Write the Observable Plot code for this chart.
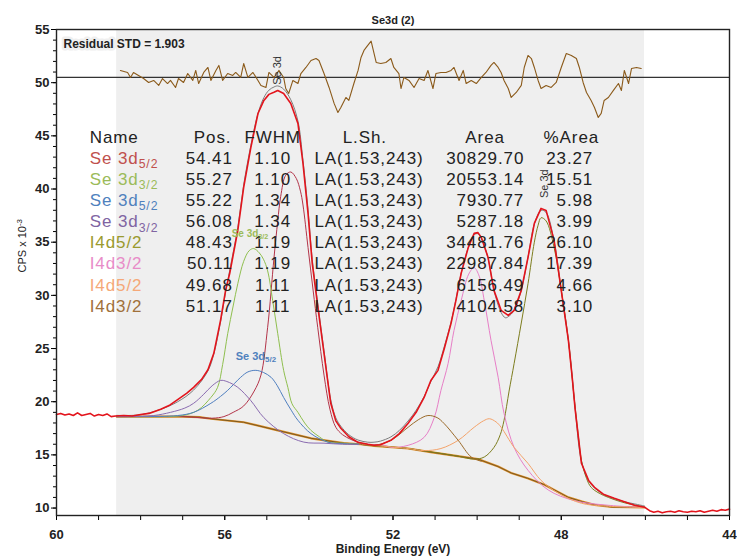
<!DOCTYPE html>
<html>
<head>
<meta charset="utf-8">
<script src="https://cdn.jsdelivr.net/npm/d3@7"></script>
<script src="https://cdn.jsdelivr.net/npm/@observablehq/plot@0.6"></script>
<style>
  body { margin: 0; background: #fff; }
  #chart svg { font-family: "Liberation Sans", Arial, sans-serif; }
  #chart svg .tbl text { letter-spacing: 0.9px; }
</style>
</head>
<body>
<div id="chart"></div>
<script>
// ---------- DATA (binding energy eV, CPS x 10^-3) ----------
const rawData = [[60.0,18.8],[59.9,18.9],[59.8,18.75],[59.7,18.85],[59.6,18.7],[59.5,18.95],[59.4,18.7],[59.3,18.8],[59.2,18.9],[59.1,18.65],[59.0,18.8],[58.9,18.7],[58.8,18.85],[58.7,18.6],[58.6,18.65],
  [58.4,18.7],[58.2,18.65],[58.0,18.8],[57.8,18.9],[57.52,19.3],[57.3,19.7],[57.12,20.2],[56.9,20.8],[56.74,21.35],[56.55,22.1],[56.40,23.0],[56.26,24.55],[56.10,27.65],[55.98,30.47],
  [55.88,32.1],[55.69,36.1],[55.55,40.15],[55.38,43.9],[55.21,47.1],[55.07,48.33],[54.95,48.9],[54.83,49.1],[54.74,49.27],[54.60,48.98],
  [54.43,48.05],[54.26,46.17],[54.14,42.4],[54.02,37.7],[53.92,33.0],[53.79,29.0],[53.64,24.55],[53.48,19.85],[53.36,18.2],[53.24,17.5],
  [53.05,16.7],[52.83,16.18],[52.6,16.0],[52.45,15.9],[52.3,15.95],[52.05,16.37],[51.85,17.0],[51.64,17.97],[51.45,19.0],[51.26,20.4],
  [51.10,22.0],[50.93,22.95],[50.78,25.0],[50.62,27.37],[50.50,29.6],[50.38,32.07],[50.21,34.51],[50.07,35.83],[49.98,35.9],[49.90,35.45],
  [49.74,33.57],[49.60,30.47],[49.43,28.59],[49.26,28.12],[49.12,28.59],[48.95,30.47],[48.79,33.57],[48.64,36.77],[48.48,38.18],[48.36,37.99],
  [48.17,35.17],[48.00,30.47],[47.83,25.77],[47.74,22.3],[47.67,19.3],[47.52,14.21],[47.35,12.6],[47.21,11.95],[47.0,11.3],[46.74,10.92],
  [46.5,10.6],[46.26,10.26],[46.02,10.08],
  [45.9,9.75],[45.8,9.6],[45.7,9.7],[45.6,9.55],[45.5,9.65],[45.4,9.7],[45.3,9.6],[45.2,9.75],[45.1,9.65],[45.0,9.6],[44.9,9.7],[44.8,9.65],[44.7,9.75],[44.6,9.6],[44.5,9.7],[44.4,9.8],[44.3,9.7],[44.2,9.85],[44.1,9.8],[44.0,9.9]];

const envelope = [[58.57,18.62],[58.0,18.68],[57.52,19.2],[57.12,19.9],[56.74,21.0],[56.40,22.8],[56.26,24.4],[56.10,27.4],[55.98,30.2],[55.88,32.3],[55.69,36.3],[55.55,40.3],[55.38,44.0],[55.21,47.0],[55.07,48.5],[54.95,49.2],[54.83,49.5],[54.74,49.6],[54.60,49.3],[54.43,48.3],[54.26,46.3],[54.14,42.6],[54.02,38.0],[53.92,33.3],[53.79,29.2],[53.64,24.7],[53.48,20.1],[53.36,18.4],[53.24,17.6],[53.05,16.8],[52.83,16.3],[52.6,16.1],[52.45,16.1],[52.3,16.2],[52.05,16.6],[51.85,17.2],[51.64,18.1],[51.45,19.1],[51.26,20.4],[51.10,21.8],[50.93,23.2],[50.78,25.1],[50.62,27.4],[50.50,29.6],[50.38,32.0],[50.21,34.4],[50.07,35.6],[49.98,35.7],[49.90,35.3],[49.74,33.4],[49.60,30.4],[49.43,28.3],[49.33,27.8],[49.26,27.9],[49.12,28.5],[48.95,30.4],[48.79,33.5],[48.64,36.6],[48.48,37.9],[48.36,37.7],[48.17,35.0],[48.00,30.4],[47.83,25.7],[47.74,22.3],[47.67,19.3],[47.52,14.3],[47.35,12.5],[47.21,11.8],[47.0,11.2],[46.74,10.8],[46.5,10.5],[46.26,10.3],[46.02,10.1]];

const background = [[58.57,18.6],[57.0,18.6],[56.6,18.55],[56.33,18.4],[55.55,18.07],[54.74,17.3],[53.95,16.56],[53.17,16.1],[52.76,16.0],[52.45,15.85],[51.64,15.6],[51.07,15.24],[50.5,14.9],[49.98,14.6],[49.5,13.9],[49.19,13.3],[48.8,12.8],[48.40,12.2],[47.83,11.0],[47.5,10.6],[47.21,10.3],[46.8,10.1],[46.02,10.05]];

const se3d52a = [[58.57,18.6],[57.0,18.6],[56.3,18.45],[56.02,18.6],[55.8,19.0],[55.55,19.6],[55.3,21.0],[55.14,22.5],[54.98,27.0],[54.83,33.5],[54.74,37.0],[54.67,39.3],[54.55,41.3],[54.43,41.6],[54.30,41.0],[54.20,39.8],[54.14,38.5],[54.02,34.5],[53.90,30.5],[53.79,27.0],[53.64,22.5],[53.50,19.3],[53.36,17.6],[53.2,16.9],[53.0,16.45],[52.76,16.1],[52.4,15.9]];
const se3d32a = [[58.57,18.6],[57.5,18.6],[57.0,18.7],[56.64,19.2],[56.33,20.4],[56.17,21.35],[56.05,23.5],[55.93,26.4],[55.80,29.0],[55.69,31.1],[55.55,33.2],[55.42,34.2],[55.31,34.4],[55.18,34.0],[55.08,33.4],[54.98,32.3],[54.86,29.5],[54.74,26.4],[54.60,22.95],[54.50,21.35],[54.40,19.8],[54.26,19.0],[54.10,18.0],[53.95,17.3],[53.75,16.7],[53.55,16.2],[53.17,16.1],[52.8,16.0]];
const se3d52b = [[58.57,18.6],[58.0,18.6],[57.12,18.7],[56.74,19.0],[56.33,19.85],[56.1,20.5],[55.93,21.07],[55.62,22.3],[55.45,22.8],[55.26,22.95],[55.08,22.75],[54.90,22.3],[54.75,21.5],[54.60,20.4],[54.42,19.2],[54.26,18.25],[53.95,17.0],[53.55,16.2],[53.17,16.05],[52.8,16.0]];
const se3d32b = [[58.57,18.6],[58.3,18.6],[57.69,18.7],[57.29,19.0],[56.95,19.4],[56.74,19.85],[56.5,20.7],[56.3,21.5],[56.10,22.0],[55.95,21.9],[55.69,21.35],[55.38,20.1],[55.07,18.5],[54.6,17.0],[54.12,16.2],[53.64,16.1],[53.2,16.0],[52.8,16.0]];
const i4d52a = [[52.8,16.0],[51.64,15.6],[51.3,15.4],[50.8,15.1],[50.45,14.87],[50.07,14.6],[49.83,14.8],[49.60,15.7],[49.45,16.9],[49.36,18.25],[49.24,21.0],[49.12,23.6],[48.95,27.4],[48.79,31.1],[48.64,35.0],[48.55,36.6],[48.48,37.3],[48.36,37.0],[48.17,34.5],[48.0,30.47],[47.83,25.77],[47.71,21.0],[47.60,17.0],[47.52,14.5],[47.40,12.8],[47.29,11.95],[47.1,11.4],[46.88,11.0],[46.5,10.5],[46.02,10.1]];
const i4d32a = [[52.8,16.0],[52.2,15.9],[52.05,15.7],[51.64,15.9],[51.26,16.65],[51.02,18.5],[50.86,21.07],[50.69,23.6],[50.55,26.7],[50.38,29.5],[50.20,32.0],[50.07,32.6],[49.95,31.8],[49.83,29.5],[49.67,25.77],[49.50,22.3],[49.36,18.9],[49.12,15.7],[48.79,13.55],[48.31,11.7],[47.69,10.7],[46.88,10.26],[46.02,10.05]];
const i4d52b = [[52.8,16.0],[51.64,15.6],[51.26,15.4],[50.86,15.6],[50.45,16.37],[50.07,17.6],[49.85,18.2],[49.71,18.4],[49.55,18.1],[49.43,17.6],[49.12,15.7],[48.79,14.2],[48.48,12.6],[48.07,11.4],[47.52,10.45],[47.0,10.2],[46.02,10.05]];
const i4d32b = [[52.8,16.0],[52.45,15.9],[52.05,16.37],[51.64,17.6],[51.4,18.3],[51.17,18.7],[50.95,18.5],[50.79,17.97],[50.45,16.37],[50.14,14.8],[49.90,14.4]];

const residual = [[58.48,51.15],[58.31,50.96],[58.24,50.49],[58.17,50.96],[58.05,50.68],[57.93,50.39],[57.81,50.02],[57.69,50.21],[57.57,49.74],[57.48,50.39],[57.36,49.92],[57.29,50.21],[57.17,49.55],[57.10,50.39],[56.98,50.02],[56.88,50.86],[56.76,50.21],[56.69,51.15],[56.62,49.92],[56.50,50.96],[56.40,51.43],[56.33,50.21],[56.21,51.15],[56.14,51.62],[56.05,50.21],[55.93,50.86],[55.81,50.68],[55.74,50.96],[55.62,50.49],[55.55,51.80],[55.45,50.49],[55.33,50.96],[55.21,50.21],[55.14,49.74],[55.02,49.55],[54.95,50.96],[54.83,50.49],[54.71,51.15],[54.60,50.49],[54.55,49.45],[54.48,48.98],[54.38,50.21],[54.26,49.92],[54.19,50.86],[54.07,51.43],[53.95,52.09],[53.83,52.27],[53.76,52.09],[53.64,50.86],[53.52,49.55],[53.40,48.05],[53.31,47.20],[53.24,47.67],[53.12,48.61],[53.05,48.33],[52.93,49.92],[52.83,51.15],[52.76,52.37],[52.69,53.03],[52.60,53.50],[52.52,53.9],[52.40,51.90],[52.29,51.80],[52.17,51.90],[52.05,52.27],[51.98,51.43],[51.86,50.86],[51.81,49.45],[51.74,50.49],[51.62,50.21],[51.50,49.55],[51.38,50.39],[51.26,50.21],[51.17,51.15],[51.05,49.45],[50.98,50.86],[50.86,50.96],[50.74,50.96],[50.62,51.15],[50.55,51.43],[50.43,50.21],[50.33,51.15],[50.26,49.92],[50.14,50.21],[50.02,49.92],[49.90,50.49],[49.79,50.96],[49.67,51.62],[49.60,51.90],[49.50,51.43],[49.43,50.96],[49.36,50.21],[49.26,49.45],[49.19,48.61],[49.07,49.08],[48.95,49.74],[48.88,51.43],[48.79,52.56],[48.71,52.27],[48.64,51.43],[48.55,50.21],[48.48,49.45],[48.36,49.74],[48.24,49.55],[48.12,50.02],[48.00,51.43],[47.88,52.74],[47.76,52.56],[47.64,52.27],[47.57,51.43],[47.48,50.02],[47.40,49.08],[47.29,48.33],[47.21,47.67],[47.12,46.73],[47.05,47.11],[46.98,48.33],[46.88,48.61],[46.76,49.27],[46.64,49.92],[46.57,49.27],[46.50,51.15],[46.40,49.92],[46.33,51.33],[46.21,51.43],[46.10,51.33]];
const residualBase = 50.5;
const fitRegion = [58.57, 46.02];

// table
const tableHeaders = ["Name", "Pos.", "FWHM", "L.Sh.", "Area", "%Area"];
const compNames = ["Se 3d|5/2", "Se 3d|3/2", "Se 3d|5/2", "Se 3d|3/2", "I4d5/2", "I4d3/2", "I4d5/2", "I4d3/2"];
const compPos = ["54.41", "55.27", "55.22", "56.08", "48.43", "50.11", "49.68", "51.17"];
const compFWHM = ["1.10", "1.10", "1.34", "1.34", "1.19", "1.19", "1.11", "1.11"];
const compLSh = ["LA(1.53,243)", "LA(1.53,243)", "LA(1.53,243)", "LA(1.53,243)", "LA(1.53,243)", "LA(1.53,243)", "LA(1.53,243)", "LA(1.53,243)"];
const compArea = ["30829.70", "20553.14", "7930.77", "5287.18", "34481.76", "22987.84", "6156.49", "4104.58"];
const compPct = ["23.27", "15.51", "5.98", "3.99", "26.10", "17.39", "4.66", "3.10"];

// ticks
const xMajorTicks = [60, 56, 52, 48, 44];
const xMinorTicks = d3.range(44, 61, 1);
const yMajorTicks = [10, 15, 20, 25, 30, 35, 40, 45, 50, 55];
const yMinorTicks = d3.range(10, 56, 1);

// ---------- STYLE ----------
const nameColors = ["#c0504d", "#9bbb59", "#4f81bd", "#8064a2", "#9a9a2e", "#e88cc8", "#f5a878", "#a0703a"];
const compColors = ["#b33449", "#8fbf4f", "#4f7fc0", "#8a6bb0", "#7d7d1e", "#e77fc7", "#f4a36a", "#9b6a2a"];
const components = [se3d52a, se3d32a, se3d52b, se3d32b, i4d52a, i4d32a, i4d52b, i4d32b];

// table layout (in data coordinates)
const rowTop = 44.85, rowStep = 1.983;
const rowY = (i) => rowTop - rowStep * (i + 1);
const rows = compNames.map((n, i) => ({i, name: n, pos: compPos[i], fwhm: compFWHM[i], lsh: compLSh[i], area: compArea[i], pct: compPct[i], color: nameColors[i]}));
const headerLayout = [
  {x: 59.21, a: "start"},
  {x: 55.84, a: "end"},
  {x: 54.86, a: "middle"},
  {x: 52.67, a: "middle"},
  {x: 49.81, a: "middle"},
  {x: 47.10, a: "end"}
];
const tFont = 17;
const colMark = (field, x, anchor, fill) => Plot.text(rows, {
  x: () => x, y: d => rowY(d.i), text: d => d[field], textAnchor: anchor,
  fill: fill || "#222", fontSize: tFont, className: "tbl"
});
const headerMarks = tableHeaders.map((h, k) => Plot.text([h], {
  x: () => headerLayout[k].x, y: () => rowTop, textAnchor: headerLayout[k].a,
  fontSize: tFont, fill: "#222", className: "tbl"
}));

const marks = [
  Plot.rect([fitRegion], {x1: d => d[0], x2: d => d[1], fill: "#efefef"}),
  Plot.ruleY([residualBase], {stroke: "#333", strokeWidth: 1.4}),
  Plot.line(residual, {x: d => d[0], y: d => d[1], stroke: "#8b5a1a", strokeWidth: 1.1}),
  Plot.line(background, {x: d => d[0], y: d => d[1], stroke: "#e0902a", strokeWidth: 2.2}),
  Plot.line(background, {x: d => d[0], y: d => d[1], stroke: "#7a5a22", strokeWidth: 1}),
  ...components.map((c, k) => Plot.line(c, {x: d => d[0], y: d => d[1], stroke: compColors[k], strokeWidth: 1, curve: "catmull-rom"})),
  Plot.line(envelope, {x: d => d[0], y: d => d[1], stroke: "#6f6f6f", strokeWidth: 0.9, curve: "catmull-rom", dy: -1}),
  Plot.line(rawData, {x: d => d[0], y: d => d[1], stroke: "#e3141c", strokeWidth: 1.6}),
  // axes
  Plot.axisY(yMinorTicks, {tickSize: 3, tickFormat: () => "", label: null}),
  Plot.axisY(yMajorTicks, {tickSize: 5, tickPadding: 2, label: null, fontSize: 13, fill: "#222", className: "tickbold"}),
  Plot.axisX(xMinorTicks, {tickSize: 5, tickFormat: () => "", label: null}),
  Plot.axisX(xMajorTicks, {tickSize: 5, tickPadding: 9, label: null, fontSize: 13, fill: "#222", className: "tickbold"}),
  Plot.frame({stroke: "#222", strokeWidth: 1.4}),
  // table
  ...headerMarks,
  colMark("name", 59.21, "start", d => d.color),
  colMark("pos", 55.81, "end"),
  colMark("fwhm", 54.86, "middle"),
  colMark("lsh", 52.57, "middle"),
  colMark("area", 48.88, "end"),
  colMark("pct", 47.24, "end"),
  // peak annotations
  Plot.text(["Se 3d"], {x: () => 54.74, y: () => 51.15, rotate: -90, fontSize: 11, fill: "#333"}),
  Plot.text(["Se 3d"], {x: () => 48.40, y: () => 40.5, rotate: -90, fontSize: 11, fill: "#333"}),
  Plot.text(["Se 3d|3/2"], {x: () => 55.40, y: () => 35.8, fontSize: 10, fontWeight: "bold", fill: "#9bbb59"}),
  Plot.text(["Se 3d|5/2"], {x: () => 55.26, y: () => 24.3, fontSize: 11, fontWeight: "bold", fill: "#4f81bd"}),
  // titles
  Plot.text(["Residual STD = 1.903"], {frameAnchor: "top-left", dx: 7, dy: 10, textAnchor: "start", fontSize: 12, fontWeight: "bold", fill: "#222", stroke: "#efefef", strokeWidth: 5}),
  Plot.text(["Se3d (2)"], {frameAnchor: "top", lineAnchor: "middle", dy: -9, fontSize: 11, fontWeight: "bold", fill: "#222"}),
  Plot.text(["Binding Energy (eV)"], {frameAnchor: "bottom", lineAnchor: "middle", dy: 34, fontSize: 12, fontWeight: "bold", fill: "#222"}),
  Plot.text(["CPS x 10|-3"], {frameAnchor: "left", dx: -34, rotate: -90, fontSize: 11, fill: "#222"})
];

const chart = Plot.plot({
  width: 737, height: 556,
  marginLeft: 56, marginRight: 8, marginTop: 29, marginBottom: 41,
  style: {background: "white", fontFamily: "Liberation Sans, Arial, sans-serif", overflow: "visible"},
  x: {domain: [60, 44]},
  y: {domain: [9.3, 55]},
  marks
});

// bold major tick labels
d3.select(chart).selectAll("g[aria-label$='tick label'] text").attr("font-weight", "bold");

// subscripts / superscripts marked with "|"
d3.select(chart).selectAll("text").each(function () {
  const t = this.textContent;
  if (!t.includes("|")) return;
  const [a, b] = t.split("|");
  const sel = d3.select(this);
  sel.text(a);
  const sup = b.startsWith("-");
  sel.append("tspan").attr("font-size", "0.72em").attr("dy", sup ? "-0.45em" : "0.35em").text(b);
});

document.getElementById("chart").appendChild(chart);
</script>
</body>
</html>
